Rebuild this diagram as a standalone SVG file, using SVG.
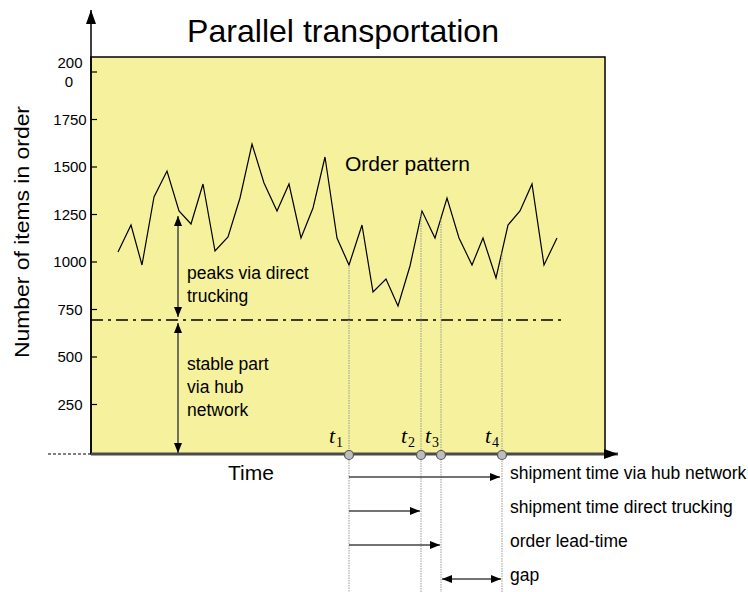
<svg xmlns="http://www.w3.org/2000/svg" width="748" height="592" viewBox="0 0 748 592">
<defs>
<marker id="ah" viewBox="0 0 10 8" refX="10" refY="4" markerWidth="10" markerHeight="8" markerUnits="userSpaceOnUse" orient="auto-start-reverse"><path d="M0,0 L10,4 L0,8 Z" fill="#000"/></marker>
<marker id="axh" viewBox="0 0 14 10" refX="14" refY="5" markerWidth="14" markerHeight="10" markerUnits="userSpaceOnUse" orient="auto"><path d="M0,0 L14,5 L0,10 Z" fill="#000"/></marker>
</defs>
<style>
text{font-family:"Liberation Sans",Arial,sans-serif;fill:#000}
.tick{font-size:15px;text-anchor:middle}
.lbl{font-size:17.5px}
.tt{font-family:"Liberation Serif","Times New Roman",serif;font-style:italic;font-size:22px}
.ts{font-family:"Liberation Serif","Times New Roman",serif;font-size:14px}
.vl{stroke:#999;stroke-width:1;stroke-dasharray:1.5 1;fill:none}
.arr{stroke:#444;stroke-width:1.5;fill:none}
.dot{fill:#bdbdbd;stroke:#555;stroke-width:1.2}
</style>
<g id="plot">
<rect x="91" y="57" width="514" height="397" fill="#F5F19D" stroke="#000" stroke-width="1.5"/>
</g>
<g id="title"><text x="187" y="42" font-size="32" textLength="312" lengthAdjust="spacingAndGlyphs">Parallel transportation</text></g>
<g id="y-axis">
<line x1="91" y1="454" x2="91" y2="10" stroke="#000" stroke-width="1.5" marker-end="url(#axh)"/>
<line x1="48" y1="454" x2="91" y2="454" stroke="#000" stroke-width="1" stroke-dasharray="3 2"/>
<g stroke="#000" stroke-width="1.2">
<line x1="91" y1="72" x2="97" y2="72"/><line x1="91" y1="119.5" x2="97" y2="119.5"/><line x1="91" y1="167" x2="97" y2="167"/><line x1="91" y1="214.5" x2="97" y2="214.5"/><line x1="91" y1="262" x2="97" y2="262"/><line x1="91" y1="309.5" x2="97" y2="309.5"/><line x1="91" y1="357" x2="97" y2="357"/><line x1="91" y1="404.5" x2="97" y2="404.5"/>
</g>
<text class="tick" x="70" y="68">200</text><text class="tick" x="69" y="87">0</text>
<text class="tick" x="70" y="125">1750</text><text class="tick" x="70" y="172">1500</text><text class="tick" x="70" y="220">1250</text><text class="tick" x="70" y="267">1000</text><text class="tick" x="70" y="315">750</text><text class="tick" x="70" y="362">500</text><text class="tick" x="70" y="410">250</text>
<text x="0" y="0" font-size="20" transform="translate(29,232) rotate(-90)" text-anchor="middle" textLength="252" lengthAdjust="spacingAndGlyphs">Number of items in order</text>
</g>
<g id="x-axis">
<line x1="91" y1="454" x2="618" y2="454" stroke="#4a4a4a" stroke-width="3" marker-end="url(#axh)"/>
<text x="228" y="480" font-size="21">Time</text>
</g>
<g id="order-pattern">
<polyline fill="none" stroke="#000" stroke-width="1.2" points="118,252 131,225 142,265 154,197 167,171 179,211 191,224 203,184 215,251 228,237 240,198 252,144 264,183 277,211 289,184 301,238 313,208 325,157 337,238 349,265 362,225 373,292 386,279 398,306 410,266 422,211 435,238 447,198 459,238 472,265 483,238 496,278 508,225 520,211 532,184 544,265 557,238"/>
<text x="345" y="171" font-size="21">Order pattern</text>
</g>
<g id="threshold">
<line x1="91" y1="320" x2="566" y2="320" stroke="#000" stroke-width="1.3" stroke-dasharray="12 5 3 5"/>
</g>
<g id="connectors">
<line class="vl" x1="349" y1="265" x2="349" y2="592"/>
<line class="vl" x1="421" y1="213" x2="421" y2="592"/>
<line class="vl" x1="441" y1="219" x2="441" y2="592"/>
<line class="vl" x1="502" y1="253" x2="502" y2="592"/>
<line class="arr" x1="178" y1="216" x2="178" y2="317" marker-start="url(#ah)" marker-end="url(#ah)"/>
<line class="arr" x1="178" y1="323" x2="178" y2="453" marker-start="url(#ah)" marker-end="url(#ah)"/>
<line class="arr" x1="349" y1="477" x2="500" y2="477" marker-end="url(#ah)"/>
<line class="arr" x1="349" y1="511" x2="420" y2="511" marker-end="url(#ah)"/>
<line class="arr" x1="349" y1="545" x2="440" y2="545" marker-end="url(#ah)"/>
<line class="arr" x1="442" y1="579" x2="501" y2="579" marker-start="url(#ah)" marker-end="url(#ah)"/>
</g>
<g id="labels">
<text class="lbl" x="187" y="279">peaks via direct</text>
<text class="lbl" x="187" y="302">trucking</text>
<text class="lbl" x="187" y="370">stable part</text>
<text class="lbl" x="187" y="393">via hub</text>
<text class="lbl" x="187" y="416">network</text>
<text class="lbl" x="510" y="479">shipment time via hub network</text>
<text class="lbl" x="510" y="513">shipment time direct trucking</text>
<text class="lbl" x="510" y="547">order lead-time</text>
<text class="lbl" x="510" y="581">gap</text>
</g>
<g id="t-markers">
<text class="tt" x="329" y="443">t</text><text class="ts" x="336" y="447">1</text>
<text class="tt" x="401" y="443">t</text><text class="ts" x="408" y="447">2</text>
<text class="tt" x="425" y="443">t</text><text class="ts" x="432" y="447">3</text>
<text class="tt" x="485" y="443">t</text><text class="ts" x="492" y="447">4</text>
<circle class="dot" cx="349" cy="455" r="4.5"/>
<circle class="dot" cx="421" cy="455" r="4.5"/>
<circle class="dot" cx="441" cy="455" r="4.5"/>
<circle class="dot" cx="502" cy="455" r="4.5"/>
</g>
</svg>
